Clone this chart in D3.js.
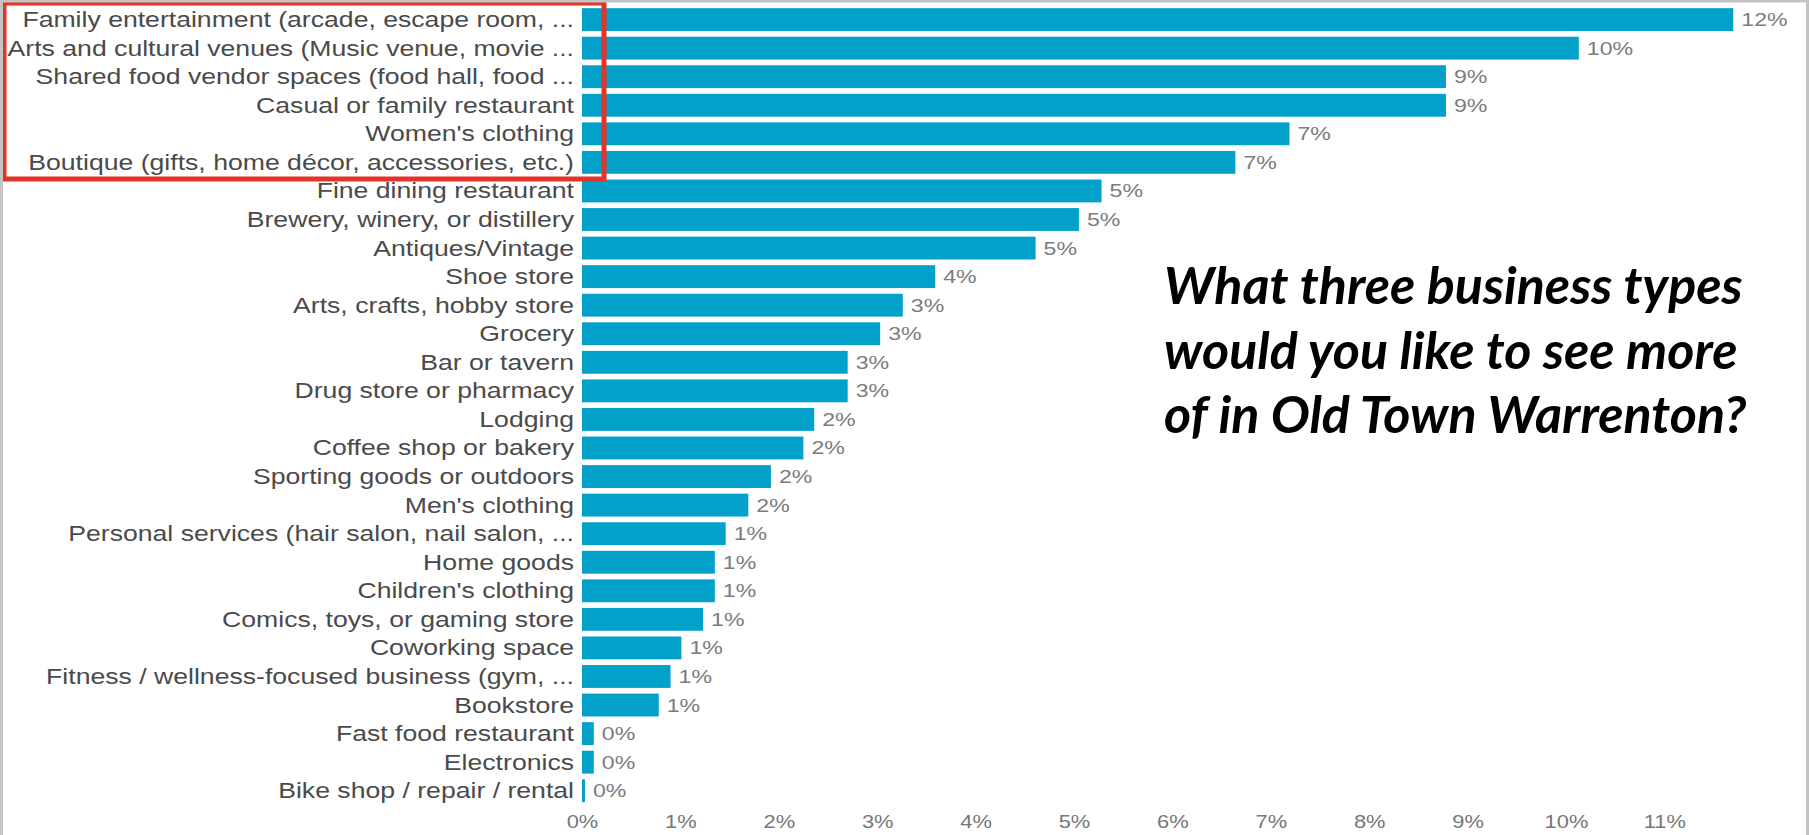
<!DOCTYPE html>
<html>
<head>
<meta charset="utf-8">
<script src="https://cdn.jsdelivr.net/npm/d3@7"></script>
<style>
    html, body { margin: 0; padding: 0; background: #fff; }
    svg { display: block; }
</style>
</head>
<body>
<svg id="bar-chart"></svg>
<script>
// answer categories, top to bottom
const categories = [
    'Family entertainment (arcade, escape room, ...',
    'Arts and cultural venues (Music venue, movie ...',
    'Shared food vendor spaces (food hall, food ...',
    'Casual or family restaurant',
    "Women's clothing",
    'Boutique (gifts, home décor, accessories, etc.)',
    'Fine dining restaurant',
    'Brewery, winery, or distillery',
    'Antiques/Vintage',
    'Shoe store',
    'Arts, crafts, hobby store',
    'Grocery',
    'Bar or tavern',
    'Drug store or pharmacy',
    'Lodging',
    'Coffee shop or bakery',
    'Sporting goods or outdoors',
    "Men's clothing",
    'Personal services (hair salon, nail salon, ...',
    'Home goods',
    "Children's clothing",
    'Comics, toys, or gaming store',
    'Coworking space',
    'Fitness / wellness-focused business (gym, ...',
    'Bookstore',
    'Fast food restaurant',
    'Electronics',
    'Bike shop / repair / rental'
];

// share of responses (%)
const shares = [
    11.70, 10.13, 8.78, 8.78, 7.19, 6.64, 5.28, 5.05, 4.61, 3.59,
    3.26, 3.03, 2.70, 2.70, 2.36, 2.25, 1.92, 1.69, 1.46, 1.35,
    1.35, 1.23, 1.01, 0.90, 0.78, 0.12, 0.12, 0.03
];

// x axis tick values (%)
const tickValues = [0, 1, 2, 3, 4, 5, 6, 7, 8, 9, 10, 11];

const titleLines = [
    'What three business types',
    'would you like to see more',
    'of in Old Town Warrenton?'
];

const width = 1810;
const height = 835;
const barColor = '#03a1ca';
const stretch = 1.25; // the screenshot text is wider than it is tall
const labelFont = '"Liberation Sans", Arial, sans-serif';

const data = categories.map((c, i) => ({ category: c, value: shares[i] }));

const svg = d3.select('#bar-chart')
    .attr('width', width)
    .attr('height', height);

// scales
const x = d3.scaleLinear()
    .domain([0, 12])
    .range([582, 582 + 12 * 98.4]);

const y = d3.scaleBand()
    .domain(categories)
    .range([5.3, 805])
    .paddingInner(0.2)
    .paddingOuter(0.1);

// bars
svg.append('g')
    .selectAll('rect')
    .data(data)
    .enter().append('rect')
    .attr('x', x(0))
    .attr('y', d => y(d.category))
    .attr('width', d => x(d.value) - x(0))
    .attr('height', y.bandwidth())
    .style('fill', barColor);

// category labels
svg.append('g')
    .selectAll('text')
    .data(data)
    .enter().append('text')
    .attr('transform', d => `translate(${x(0) - 8}, ${y(d.category) + y.bandwidth() / 2}) scale(${stretch}, 1)`)
    .attr('dy', '0.35em')
    .attr('text-anchor', 'end')
    .style('font-family', labelFont)
    .style('font-size', '21.3px')
    .style('fill', '#4a4a4a')
    .text(d => d.category);

// value labels at bar ends
svg.append('g')
    .selectAll('text')
    .data(data)
    .enter().append('text')
    .attr('transform', d => `translate(${x(d.value) + 8}, ${y(d.category) + y.bandwidth() / 2}) scale(${stretch}, 1)`)
    .attr('dy', '0.35em')
    .style('font-family', labelFont)
    .style('font-size', '18.5px')
    .style('fill', '#7c7c7c')
    .text(d => `${Math.round(d.value)}%`);

// x axis: labels only, no line or ticks
const xAxis = svg.append('g')
    .attr('transform', 'translate(0, 816)')
    .call(d3.axisBottom(x)
        .tickValues(tickValues)
        .tickSize(0)
        .tickPadding(0)
        .tickFormat(d => `${d}%`));

xAxis.select('.domain').remove();

// stretched like the other labels, kept centred on their ticks
xAxis.selectAll('.tick text')
    .attr('transform', `scale(${stretch}, 1)`)
    .attr('dy', '0.71em')
    .style('font-family', labelFont)
    .style('font-size', '17.5px')
    .style('fill', '#777');

// question text
svg.append('g')
    .selectAll('text')
    .data(titleLines)
    .enter().append('text')
    .attr('x', 1164)
    .attr('y', (d, i) => 304 + i * 64.5)
    .style('font-family', 'Lato, "Open Sans", sans-serif')
    .style('font-weight', 700)
    .style('font-style', 'italic')
    .style('font-size', '52px')
    .style('fill', '#000')
    .text(d => d);

// red highlight box round the top six labels
svg.append('rect')
    .attr('x', 4)
    .attr('y', 3)
    .attr('width', 600)
    .attr('height', 176)
    .style('fill', 'none')
    .style('stroke', '#e2342b')
    .style('stroke-width', 5);

// grey frame of the screenshot
svg.append('rect')
    .attr('x', 1.5)
    .attr('y', 1)
    .attr('width', width - 4)
    .attr('height', height + 4)
    .style('fill', 'none')
    .style('stroke', '#c4c4c4')
    .style('stroke-width', 3);
</script>
</body>
</html>
